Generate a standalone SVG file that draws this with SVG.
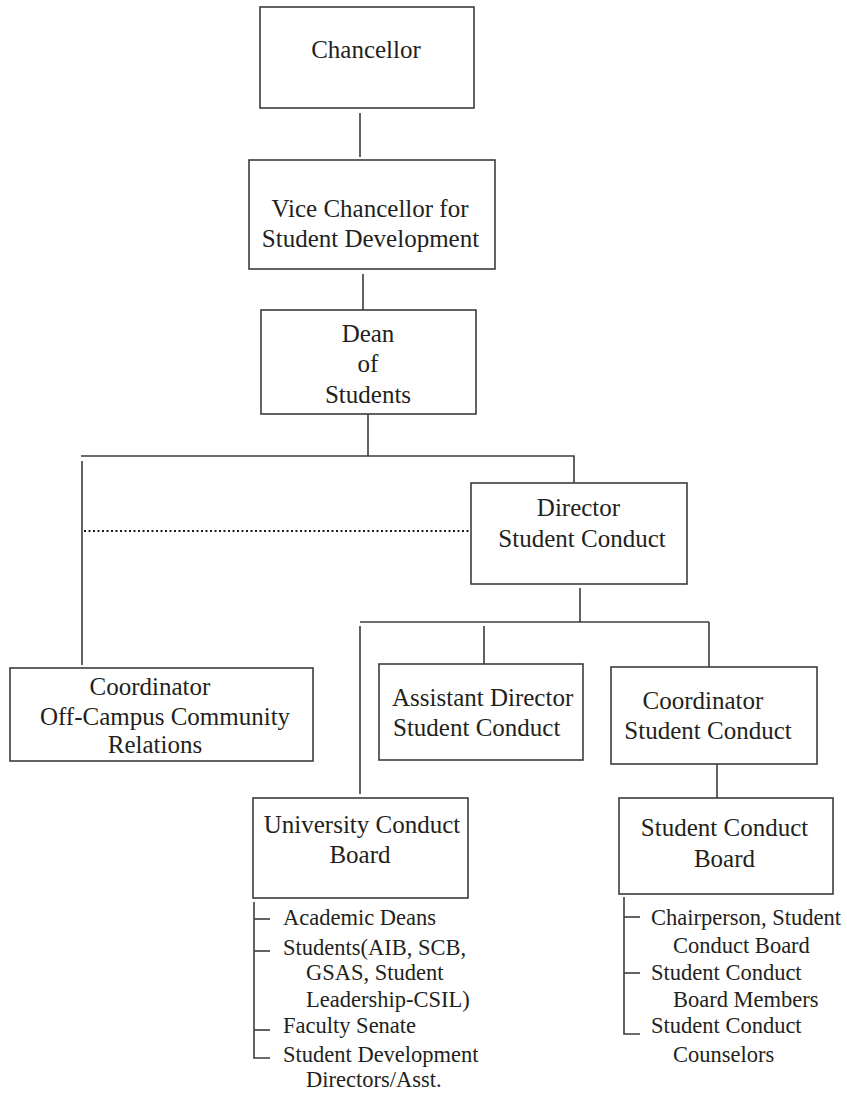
<svg xmlns="http://www.w3.org/2000/svg" width="847" height="1093" viewBox="0 0 847 1093">
<style>
.box{fill:#ffffff;stroke:#3c3c3c;stroke-width:1.6}
.ln{fill:none;stroke:#3c3c3c;stroke-width:1.6}
.dot{fill:none;stroke:#1a1a1a;stroke-width:2.2;stroke-dasharray:2 2.5}
.t{font-family:"Liberation Serif","Times New Roman",serif;font-size:25px;fill:#231f20}
.s{font-family:"Liberation Serif","Times New Roman",serif;font-size:22.5px;fill:#231f20}
.m{text-anchor:middle}
</style>
<rect width="847" height="1093" fill="#ffffff"/>
<g id="connectors">
<line class="ln" x1="360" y1="113" x2="360" y2="157"/>
<line class="ln" x1="363" y1="274" x2="363" y2="310"/>
<line class="ln" x1="368" y1="414" x2="368" y2="456"/>
<polyline class="ln" points="81,456 574,456 574,483"/>
<line class="ln" x1="82" y1="461" x2="82" y2="665"/>
<line class="dot" x1="84" y1="531" x2="469" y2="531"/>
<line class="ln" x1="580" y1="588" x2="580" y2="622"/>
<line class="ln" x1="360" y1="622" x2="709" y2="622"/>
<line class="ln" x1="360" y1="626" x2="360" y2="794"/>
<line class="ln" x1="484" y1="626" x2="484" y2="664"/>
<line class="ln" x1="709" y1="622" x2="709" y2="667"/>
<line class="ln" x1="717" y1="764" x2="717" y2="798"/>
<polyline class="ln" points="254,902 254,1058 270,1058"/>
<line class="ln" x1="254" y1="919" x2="270" y2="919"/>
<line class="ln" x1="254" y1="951" x2="270" y2="951"/>
<line class="ln" x1="254" y1="1030" x2="270" y2="1030"/>
<polyline class="ln" points="624,897 624,1034 640,1034"/>
<line class="ln" x1="624" y1="917" x2="640" y2="917"/>
<line class="ln" x1="624" y1="973" x2="640" y2="973"/>
</g>
<g id="chancellor">
<rect class="box" x="260" y="7" width="214" height="101"/>
<text class="t m" x="366" y="58">Chancellor</text>
</g>
<g id="vice-chancellor">
<rect class="box" x="249" y="160" width="246" height="109"/>
<text class="t m" x="370" y="217">Vice Chancellor for</text>
<text class="t m" x="370.5" y="247">Student Development</text>
</g>
<g id="dean">
<rect class="box" x="261" y="310" width="215" height="104"/>
<text class="t m" x="368" y="342">Dean</text>
<text class="t m" x="368" y="372">of</text>
<text class="t m" x="368" y="403">Students</text>
</g>
<g id="director">
<rect class="box" x="471" y="483" width="216" height="101"/>
<text class="t m" x="578.5" y="516">Director</text>
<text class="t m" x="582" y="547">Student Conduct</text>
</g>
<g id="coordinator-off-campus">
<rect class="box" x="10" y="668" width="303" height="93"/>
<text class="t m" x="150" y="695">Coordinator</text>
<text class="t m" x="165" y="725">Off-Campus Community</text>
<text class="t m" x="155" y="753">Relations</text>
</g>
<g id="assistant-director">
<rect class="box" x="379" y="664" width="204" height="96"/>
<text class="t" x="392" y="706">Assistant Director</text>
<text class="t" x="393" y="736">Student Conduct</text>
</g>
<g id="coordinator-student-conduct">
<rect class="box" x="611" y="667" width="206" height="97"/>
<text class="t m" x="703" y="709">Coordinator</text>
<text class="t m" x="708" y="739">Student Conduct</text>
</g>
<g id="university-conduct-board">
<rect class="box" x="253" y="798" width="215" height="100"/>
<text class="t m" x="362" y="833">University Conduct</text>
<text class="t m" x="360" y="863">Board</text>
<text class="s" x="283" y="925">Academic Deans</text>
<text class="s" x="283" y="955">Students(AIB, SCB,</text>
<text class="s" x="306" y="980">GSAS, Student</text>
<text class="s" x="306" y="1007">Leadership-CSIL)</text>
<text class="s" x="283" y="1033">Faculty Senate</text>
<text class="s" x="283" y="1062">Student Development</text>
<text class="s" x="306" y="1087">Directors/Asst.</text>
</g>
<g id="student-conduct-board">
<rect class="box" x="619" y="798" width="214" height="96"/>
<text class="t m" x="724.5" y="836">Student Conduct</text>
<text class="t m" x="724.5" y="867">Board</text>
<text class="s" x="651" y="925">Chairperson, Student</text>
<text class="s" x="673" y="953">Conduct Board</text>
<text class="s" x="651" y="980">Student Conduct</text>
<text class="s" x="673" y="1007">Board Members</text>
<text class="s" x="651" y="1033">Student Conduct</text>
<text class="s" x="673" y="1062">Counselors</text>
</g>
</svg>
